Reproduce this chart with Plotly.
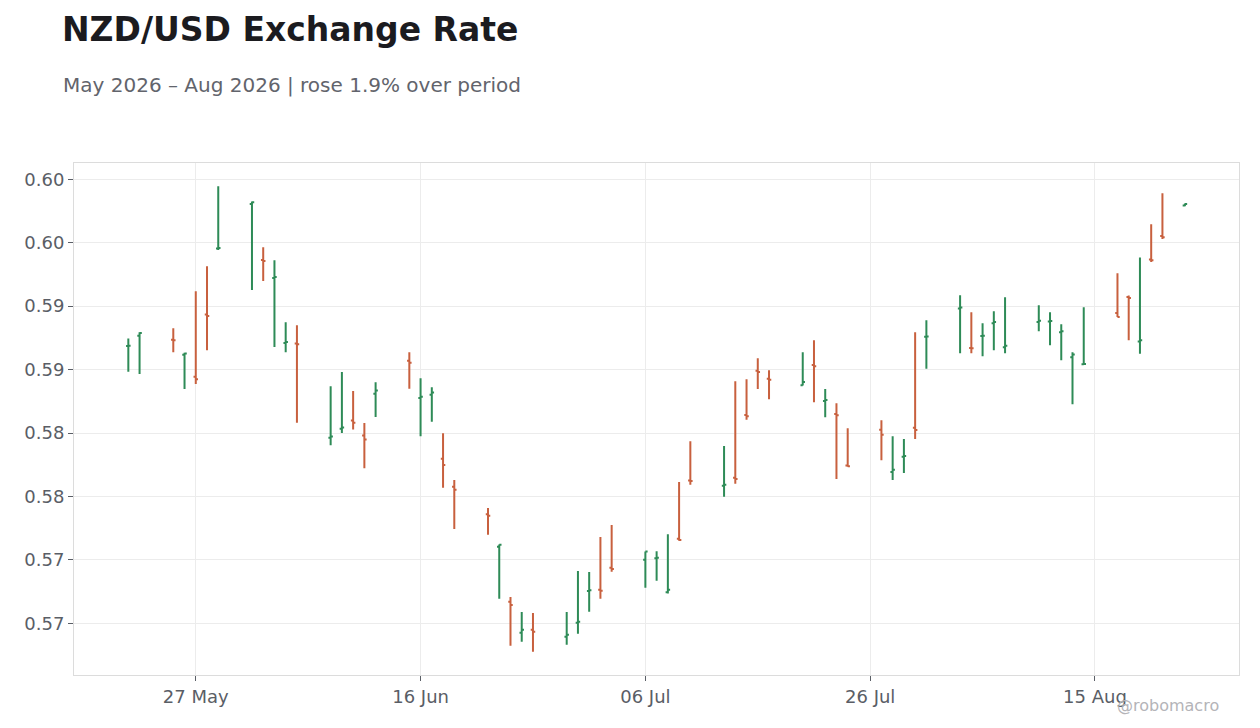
import plotly.graph_objects as go

# daily NZD/USD bars
dates = [
    "2026-05-21", "2026-05-22",
    "2026-05-25", "2026-05-26", "2026-05-27", "2026-05-28", "2026-05-29",
    "2026-06-01", "2026-06-02", "2026-06-03", "2026-06-04", "2026-06-05",
    "2026-06-08", "2026-06-09", "2026-06-10", "2026-06-11", "2026-06-12",
    "2026-06-15", "2026-06-16", "2026-06-17", "2026-06-18", "2026-06-19",
    "2026-06-22", "2026-06-23", "2026-06-24", "2026-06-25", "2026-06-26",
    "2026-06-29", "2026-06-30", "2026-07-01", "2026-07-02", "2026-07-03",
    "2026-07-06", "2026-07-07", "2026-07-08", "2026-07-09", "2026-07-10",
    "2026-07-13", "2026-07-14", "2026-07-15", "2026-07-16", "2026-07-17",
    "2026-07-20", "2026-07-21", "2026-07-22", "2026-07-23", "2026-07-24",
    "2026-07-27", "2026-07-28", "2026-07-29", "2026-07-30", "2026-07-31",
    "2026-08-03", "2026-08-04", "2026-08-05", "2026-08-06", "2026-08-07",
    "2026-08-10", "2026-08-11", "2026-08-12", "2026-08-13", "2026-08-14",
    "2026-08-17", "2026-08-18", "2026-08-19", "2026-08-20", "2026-08-21",
    "2026-08-23",
]

open_ = [
    0.58685, 0.58766,
    0.58736, 0.58616, 0.58443, 0.58934, 0.59454,
    0.59805, 0.59364, 0.59222, 0.58710, 0.58706,
    0.57962, 0.58033, 0.58099, 0.57981, 0.58309,
    0.58569, 0.58277, 0.58301, 0.57797, 0.57576,
    0.57359, 0.57103, 0.56670, 0.56426, 0.56449,
    0.56394, 0.56505, 0.56754, 0.56765, 0.56938,
    0.57001, 0.57012, 0.56744, 0.57166, 0.57626,
    0.57584, 0.57647, 0.58143, 0.58490, 0.58427,
    0.58377, 0.58537, 0.58253, 0.58149, 0.57743,
    0.58025, 0.57692, 0.57812, 0.58041, 0.58758,
    0.58981, 0.58671, 0.58764, 0.58866, 0.58677,
    0.58876, 0.58880, 0.58795, 0.58598, 0.58543,
    0.58947, 0.59073, 0.58721, 0.59367, 0.59553,
    0.59793,
]

high = [
    0.58745, 0.58795,
    0.58826, 0.58632, 0.59118, 0.59315, 0.59945,
    0.59824, 0.59464, 0.59362, 0.58873, 0.58850,
    0.58369, 0.58480, 0.58332, 0.58078, 0.58401,
    0.58637, 0.58432, 0.58361, 0.57999, 0.57629,
    0.57408, 0.57122, 0.56707, 0.56589, 0.56581,
    0.56589, 0.56912, 0.56904, 0.57180, 0.57274,
    0.57067, 0.57069, 0.57203, 0.57613, 0.57936,
    0.57897, 0.58409, 0.58424, 0.58590, 0.58495,
    0.58637, 0.58732, 0.58346, 0.58235, 0.58038,
    0.58101, 0.57975, 0.57952, 0.58795, 0.58889,
    0.59086, 0.58952, 0.58866, 0.58960, 0.59070,
    0.59007, 0.58952, 0.58858, 0.58637, 0.58992,
    0.59259, 0.59084, 0.59383, 0.59645, 0.59890,
    0.59809,
]

low = [
    0.58482, 0.58466,
    0.58637, 0.58346, 0.58387, 0.58653, 0.59443,
    0.59128, 0.59199, 0.58679, 0.58637, 0.58080,
    0.57904, 0.58001, 0.58028, 0.57723, 0.58127,
    0.58348, 0.57975, 0.58088, 0.57568, 0.57243,
    0.57198, 0.56694, 0.56323, 0.56355, 0.56276,
    0.56331, 0.56418, 0.56591, 0.56694, 0.56906,
    0.56780, 0.56835, 0.56736, 0.57151, 0.57592,
    0.57497, 0.57600, 0.58104, 0.58346, 0.58267,
    0.58375, 0.58243, 0.58125, 0.57637, 0.57734,
    0.57786, 0.57629, 0.57684, 0.57952, 0.58506,
    0.58629, 0.58629, 0.58606, 0.58653, 0.58629,
    0.58803, 0.58692, 0.58574, 0.58227, 0.58540,
    0.58915, 0.58732, 0.58624, 0.59348, 0.59530,
    0.59787,
]

close = [
    0.58688, 0.58789,
    0.58732, 0.58627, 0.58424, 0.58923, 0.59459,
    0.59819, 0.59356, 0.59230, 0.58718, 0.58700,
    0.57973, 0.58044, 0.58080, 0.57949, 0.58335,
    0.58553, 0.58285, 0.58320, 0.57747, 0.57552,
    0.57348, 0.57119, 0.56644, 0.56449, 0.56434,
    0.56410, 0.56512, 0.56760, 0.56757, 0.56928,
    0.57067, 0.57017, 0.56765, 0.57156, 0.57621,
    0.57592, 0.57637, 0.58133, 0.58480, 0.58419,
    0.58403, 0.58527, 0.58261, 0.58141, 0.57739,
    0.57986, 0.57710, 0.57818, 0.58023, 0.58760,
    0.58989, 0.58669, 0.58767, 0.58876, 0.58687,
    0.58884, 0.58883, 0.58803, 0.58619, 0.58545,
    0.58915, 0.59065, 0.58732, 0.59362, 0.59543,
    0.59805,
]

y_tickvals = [0.600, 0.595, 0.590, 0.585, 0.580, 0.575, 0.570, 0.565]
y_ticktext = ["0.60", "0.60", "0.59", "0.59", "0.58", "0.58", "0.57", "0.57"]
x_tickvals = ["2026-05-27", "2026-06-16", "2026-07-06", "2026-07-26", "2026-08-15"]

UP = "#2e8b57"
DOWN = "#c8603e"
TICK_GREY = "#5a5e66"
FONT = "DejaVu Sans"

# page body adds an 8px margin, so the figure is sized to fit inside it
W, H = 1244, 712
L, R, T, B = 66, 13, 155, 45
plot_w = W - L - R
plot_h = H - T - B

fig = go.Figure()
fig.add_trace(go.Ohlc(
    x=dates, open=open_, high=high, low=low, close=close,
    increasing_line_color=UP, decreasing_line_color=DOWN,
    line_width=2, tickwidth=0.2,
    showlegend=False,
))

fig.update_layout(
    width=W, height=H,
    margin=dict(l=L, r=R, t=T, b=B),
    paper_bgcolor="white", plot_bgcolor="white",
    font=dict(family=FONT, color=TICK_GREY, size=18),
    title=dict(
        text="<b>NZD/USD Exchange Rate</b>",
        font=dict(family=FONT, size=33, color="#1b1b1f"),
        xref="container", x=54 / W, xanchor="left",
        yref="container", y=1 - 21 / H, yanchor="middle",
    ),
    annotations=[
        dict(
            text="May 2026 \u2013 Aug 2026 | rose 1.9% over period",
            xref="paper", yref="paper",
            x=(53 - L) / plot_w, y=(H - B - 77) / plot_h, xanchor="left", yanchor="middle",
            showarrow=False, font=dict(family=FONT, size=20, color="#62646c"),
        ),
        dict(
            text="@robomacro",
            xref="paper", yref="paper",
            x=(1213 - L) / plot_w, y=(H - B - 697) / plot_h, xanchor="right", yanchor="middle",
            showarrow=False, font=dict(family=FONT, size=16, color="#b4b4b8"),
        ),
    ],
)

fig.update_xaxes(
    type="date",
    range=["2026-05-16 04:00", "2026-08-27 19:30"],
    tickvals=x_tickvals, tickformat="%d %b",
    rangeslider_visible=False,
    showgrid=True, gridcolor="#ececec", gridwidth=1,
    showline=True, linecolor="#dcdcdc", linewidth=1, mirror=True,
    ticks="outside", ticklen=5, tickcolor=TICK_GREY,
    tickfont=dict(size=18, color=TICK_GREY),
    zeroline=False,
)
fig.update_yaxes(
    range=[0.560926, 0.601284],
    tickvals=y_tickvals, ticktext=y_ticktext,
    showgrid=True, gridcolor="#ececec", gridwidth=1,
    showline=True, linecolor="#dcdcdc", linewidth=1, mirror=True,
    ticks="outside", ticklen=5, tickcolor=TICK_GREY,
    tickfont=dict(size=18, color=TICK_GREY),
    zeroline=False,
)

fig.write_html("out.html")
